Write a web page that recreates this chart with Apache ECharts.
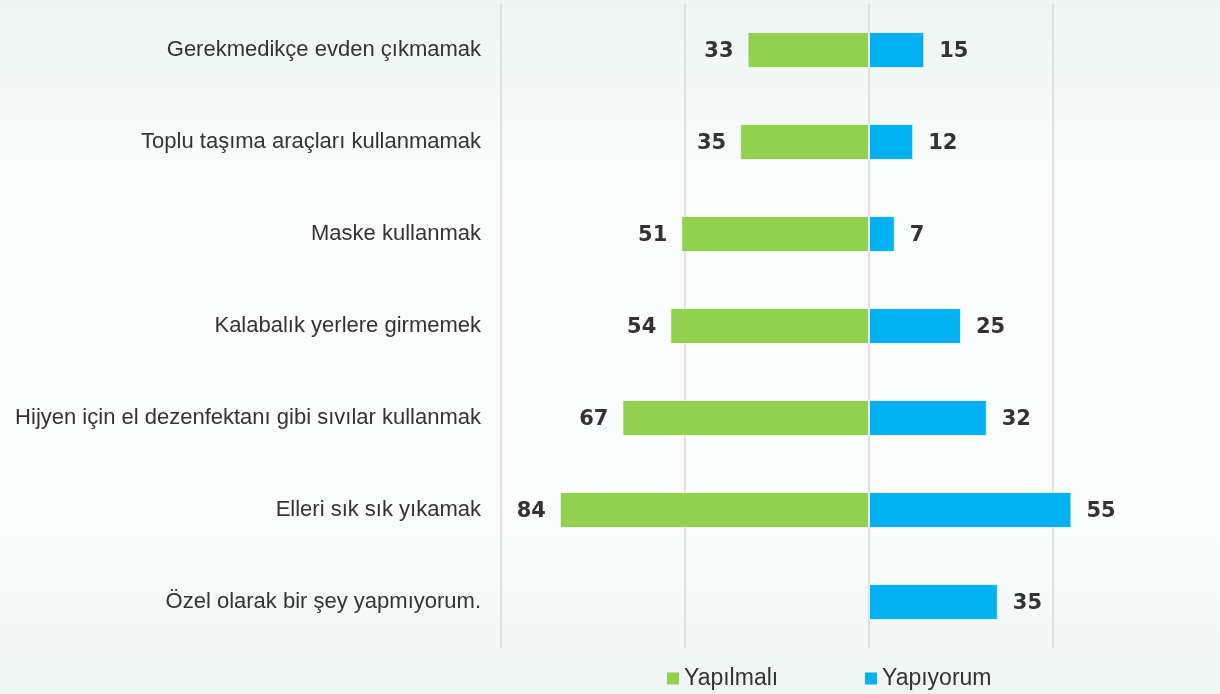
<!DOCTYPE html>
<html><head><meta charset="utf-8">
<script src="https://cdn.jsdelivr.net/npm/echarts@6/dist/echarts.min.js"></script>
<style>html,body{margin:0;padding:0;overflow:hidden;width:1220px;height:694px;}#c{width:1237px;height:694px;}</style>
</head><body><div id="c"></div>
<script>
const categories = ['Gerekmedikçe evden çıkmamak','Toplu taşıma araçları kullanmamak','Maske kullanmak','Kalabalık yerlere girmemek','Hijyen için el dezenfektanı gibi sıvılar kullanmak','Elleri sık sık yıkamak','Özel olarak bir şey yapmıyorum.'];
const yapilmali = [33, 35, 51, 54, 67, 84, null];
const yapiyorum = [15, 12, 7, 25, 32, 55, 35];
const xTicks = [-100, -50, 0, 50, 100];

const chart = echarts.init(document.getElementById('c'));
const legendBase = {itemWidth: 12, itemHeight: 12, itemGap: 6, padding: 0, icon: 'rect',
  itemStyle: {borderWidth: 0},
  textStyle: {fontFamily: 'Liberation Sans', fontSize: 23, color: '#333'}};
chart.setOption({
  backgroundColor: {type:'linear', x:0, y:0, x2:0, y2:1, colorStops:[
    {offset:0, color:'#edf5f3'},{offset:0.3, color:'#fafcfc'},{offset:0.7, color:'#fbfcfc'},{offset:1, color:'#eff6f4'}]},
  animation: false,
  grid: {left: 501, right: 0, top: 4, bottom: 46},
  legend: [
    Object.assign({data:['Yapılmalı'], left: 667, top: 667}, legendBase),
    Object.assign({data:['Yapıyorum'], left: 865, top: 667}, legendBase)
  ],
  xAxis: {type:'value', min: xTicks[0], max: xTicks[xTicks.length-1], interval: 50,
    axisLabel:{show:false}, axisLine:{show:false}, axisTick:{show:false},
    splitLine:{show:true, lineStyle:{color:'#d9d9d9', width:1.5}}},
  yAxis: {type:'category', data: categories, inverse: true,
    axisLine:{show:false}, axisTick:{show:false},
    axisLabel:{margin: 20, fontFamily:'Liberation Sans', fontSize: 22, color:'#333'}},
  series: [
    {name:'Yapılmalı', type:'bar', stack:'s', barWidth: 36,
     data: yapilmali.map(v => v == null ? null : -v),
     itemStyle:{color:'#92d050', borderColor:'rgba(255,255,255,0.7)', borderWidth:1},
     label:{show:true, position:'left', distance: 14, offset:[0, 2], formatter: p => Math.abs(p.value),
       fontFamily:'DejaVu Sans', fontWeight:'bold', fontSize: 21, color:'#333'}},
    {name:'Yapıyorum', type:'bar', stack:'s', barWidth: 36,
     data: yapiyorum,
     itemStyle:{color:'#00b0f0', borderColor:'rgba(255,255,255,0.7)', borderWidth:1},
     label:{show:true, position:'right', distance: 15, offset:[0, 2],
       fontFamily:'DejaVu Sans', fontWeight:'bold', fontSize: 21, color:'#333'}}
  ]
});
</script></body></html>
